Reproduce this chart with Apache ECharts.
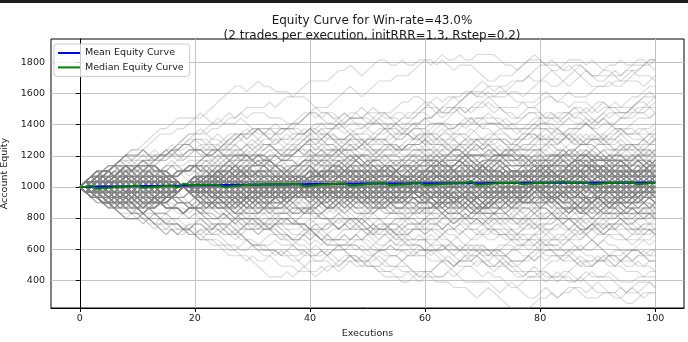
<!DOCTYPE html>
<html>
<head>
<meta charset="utf-8">
<script src="https://cdn.jsdelivr.net/npm/echarts@6/dist/echarts.min.js"></script>
<style>
  html, body { margin: 0; padding: 0; background: #fff; }
  #topbar { position: absolute; left: 0; top: 0; width: 688px; height: 3px; background: #1c1c1c; z-index: 2; }
  #chart { width: 688px; height: 342px; }
</style>
</head>
<body>
<div id="topbar"></div>
<div id="chart"></div>
<script>
// Simulation settings shown in the title
const winRate = 43.0;
const tradesPerExecution = 2;
const initRRR = 1.3;
const rStep = 0.2;
const startEquity = 1000;

// Axis ticks
const xTicks = [0, 20, 40, 60, 80, 100];
const yTicks = [400, 600, 800, 1000, 1200, 1400, 1600, 1800];

// Mean equity across all simulated accounts, executions 0..100
const meanEquity = [
  1000,1000,1001,1001,1002,1002,1003,1003,1004,1004,1005,
  1005,1006,1006,1007,1007,1008,1008,1009,1009,1010,
  1010,1011,1011,1011,1012,1012,1013,1013,1013,1014,
  1014,1015,1015,1015,1016,1016,1017,1017,1017,1018,
  1018,1018,1019,1019,1019,1020,1020,1020,1021,1021,
  1021,1021,1022,1022,1022,1022,1022,1023,1023,1023,
  1023,1023,1023,1024,1024,1024,1024,1024,1024,1024,
  1025,1025,1025,1025,1025,1025,1025,1026,1026,1026,
  1026,1026,1026,1026,1026,1027,1027,1027,1027,1027,
  1027,1027,1027,1027,1027,1027,1027,1027,1027,1027
];

// Median equity across all simulated accounts, executions 0..100
const medianEquity = [
  1000,1000,1008,988,991,994,997,1000,1003,1006,1009,
  994,997,1000,1003,1006,1009,996,1020,1012,1012,
  1013,1013,1014,1014,1000,1003,1006,1009,1012,1015,
  1016,1016,1017,1017,1018,1018,1019,1019,1004,1007,
  1010,1013,1016,1019,1020,1021,1008,1011,1014,1017,
  1020,1022,1023,1010,1013,1016,1019,1022,1024,1012,
  1014,1016,1018,1020,1022,1024,1025,1036,1013,1016,
  1019,1022,1024,1025,1026,1027,1017,1020,1023,1026,
  1027,1028,1030,1034,1027,1027,1028,1028,1016,1019,
  1022,1025,1027,1028,1028,1029,1017,1020,1023,1025
];

// Equity change per execution outcome: both trades lost / split / both won
const outcomeDelta = [-34, 0, 34];

// Hand-written outcome sequences standing in for individual account paths
// (each digit packs two executions: 3*first + second).
// Paths that stay near break-even:
const steadyOutcomes = [
  "3718204652 6130847251 8402736158 2604175384 7215063841",
  "5062837148 2857316048 1736205847 4081527360 6283751048",
  "1425063817 4730261584 0673418252 5814036276 3051847628",
  "7380514626 0547182343 6218057434 8162540378 2640351787",
  "2651403878 1374025681 4052873616 3728150442 8136054270",
  "4803162575 6218473051 2584061738 0376254184 5417830626",
  "6137028454 3805617242 7461358020 5238406617 1850274363",
  "0526738141 8263014575 3148720668 1647352084 6302581475",
  "8214605373 5041782636 0827153441 7365028158 4726013582",
  "3570481626 2683105748 5316028474 2081734565 0571826343",
  "1846230755 7431862040 6725043181 8420165737 2385470616",
  "5628143707 1564302878 2073654184 3518076242 7804613525",
  "7042518636 4120685373 8567321405 0643817522 1462837058",
  "2385716040 6873254118 1345087626 5281463707 6153048284",
  "6471302858 0315847262 4856102737 7134826050 3628105474",
  "4153867024 8746021535 0281374866 1762538043 8271465305",
  "0867342515 3256780414 6238145072 4087316258 5316278042",
  "8532074161 5408136727 3702465818 6354802171 2048536617",
  "1278450363 7821063544 5460217383 3816507426 4760381255",
  "3604125787 2150478366 8134750622 0543218667 7418206354",
  "5183620474 6302857141 2758301646 8261407535 0374652818",
  "2740563188 1473620555 6012843787 3486015272 5827304166",
  "6815237040 3528716064 7340528111 5048273686 2613840577",
  "0452718366 8065142373 1683507428 6275031844 7042168535",
  "4326801575 2781053646 5207468313 1730865424 8354610272",
  "7561432808 4036275181 8425137060 2617584343 1586207434",
  "1307856242 6814302757 3561084282 7042516638 5203174866",
  "3845017626 1257463808 4736215050 8523670411 6041728353",
  "8073264515 5382041676 0814527363 4156382708 3725046181",
  "2618473050 7145820363 6283740515 0867245132 4518063727",
  "5430187262 3602754818 1074628345 6354810276 7281036454",
  "0785316424 8413067252 5742301868 2038475161 3067528143",
  "6257048131 0574682385 2416870537 7123584606 8435217060",
  "4162705383 5728143606 7350186242 1645027838 0273645517",
  "7836152040 2041785367 4608531275 8372416053 5620473181",
  "3512867404 6350218742 0287643518 4106375282 2374581066",
  "1045782636 4186325070 8523704161 3760852414 6142803758",
  "8203541677 1063847526 3156028473 5281704636 4708216325",
  "2671430585 7215086343 6482317050 0548263177 1856340274",
  "5374026818 3842610575 1704865232 7613085424 0315728646",
  "4718350262 8504172636 5036214788 2384601557 7524130683",
  "0326184757 2657403181 7841526034 6027153848 3485062712",
  "6850273141 4316857020 2168745353 1573086426 8207364155",
  "1483605727 6078324516 4320851767 5842170363 2643518074",
  "7261548030 0735162484 8563207141 3026845187 5381627406",
  "3047816252 5482036717 0215784636 6458213702 1765043828",
  "5628034716 1374205868 6837512040 4210687353 7032516484",
  "2154760383 8621437505 3472068151 7305842626 4186752031",
  "8736125404 3250874168 1684357220 0763158444 6548021373",
  "0412873656 7047516283 5021643878 8146203575 3827164502",
  "6385207414 2813650747 7528034166 5632087141 0354826718",
  "4560318272 5186742030 2306475185 1087534626 8213650477",
  "1823745060 0642158374 4867320513 6254078231 5701834262",
  "7104582633 6307214858 0752613448 2418356707 2468103515",
  "3276041858 4528670312 6143875020 7561240383 1630285746",
  "5748216304 1760385426 3285147067 0836417252 7154628030",
  "0351678426 7482053160 5614208375 4370862518 2506713484",
  "8627305147 2035748616 1476025838 3625140877 4872035261",
  "2183540676 8351607244 7028361554 5073816420 6317582043",
  "4506821373 3864172505 2351784606 1284605737 8041376252",
  "2730614858 5026137443 8415270362 6348051727 0573812654",
  "6148372050 1357408266 4072658131 2560347818 7316205443",
  "0857264313 4681502737 5263081448 8137526040 3025618767",
  "5312807646 7204365181 2850417363 4623150878 1746038252",
  "3064518727 2518746030 6731052484 0416283757 5287314606",
  "7425031868 0382614575 3106745228 5871026434 6043827151",
  "1570482363 6843170252 4578201636 3204675818 2458163077",
  "4286153707 3715028464 0837614525 7062358141 8175402366",
  "8613274050 5260841377 7145368202 1583720646 0632581474",
  "2047365181 8436152707 1526043878 6371805242 4801257363",
  "5782014636 1057283444 6382507151 3048126576 7623415080",
  "0354826717 4821605353 2613478068 8250371464 1345762828",
  "6431708252 7603254181 5284136070 4726058313 3061874525",
  "3805162474 2148036565 8071524363 0532847116 5216408737",
  "7168250343 6315874022 3647205818 2184563707 8457031626",
  "1524387606 0273561848 4830127565 5617024383 6750382141",
  "4073615282 5641820737 7516384020 3842615076 0328456717",
  "8352041767 3786214505 0125843676 6034728151 2581637404",
  "2618703454 8502367181 6347015282 1275806344 4036285177",
  "6740253818 1438670525 3861402747 7450213686 1204835763"
];

// Paths that drift away from break-even:
const driftingOutcomes = [
  "4176203548 5724681352 8575246784 2613470546 3102647315",
  "1324061352 0314103612 4627150342 5724836152 2460571834",
  "7246583514 2604735148 8576284758 5273861475 6124073586",
  "1030461325 3216045132 6247031586 4520316748 7582463156",
  "2574013462 6138475204 3104625731 1030413026 3416205137",
  "8758462587 5782746858 4576283517 2651740384 1362054713",
  "3142061537 4625703182 7526841357 8587456278 7585264857",
  "5260473148 1346023517 0423615374 6274150382 4731628054",
  "6758241735 5274863152 2461037584 3152406137 0131430216",
  "0314102636 2546173048 6051428373 7254681352 5746281573",
  "4063728152 8572674851 2706413585 1346205731 6287041356",
  "1306524137 3162405713 0130341162 4527063184 2638150474",
  "5784275618 3517284062 1453062713 6582473517 8775684528",
  "5836124752 0413672513 2760358142 1031304216 3152603417",
  "6317452806 7482563514 5726184357 2613085746 8578267584",
  "3156024731 4728163502 0321406131 1301432605 6250473184",
  "7858246753 6584275136 3124607513 5027463181 4673052861",
  "2745031868 6130572483 4827103556 7524681375 1436204317",
  "5627384175 8785462578 7586284758 3624017586 2053146872",
  "1034316205 3162057413 6745283571 4207351682 0130342163",
  "4715263802 3104627351 6283740152 5782461357 2640137584",
  "7256483162 2614073588 0347162513 3106254273 5480236171",
  "1350624372 8757462858 5476283571 7582463154 2163058472",
  "8574627583 1306245137 0136130412 4620573186 7524368157",
  "3628154702 5047613826 8757284675 1342607315 0413013216",
  "0362741531 6578241357 2438061575 7858574286 3145062317",
  "5287463157 1430625138 7285614753 3061425172 6754827513",
  "0130624131 1304301526 2756148304 5726843157 4136257082",
  "6250371485 7284561537 1031203416 4625138072 8578657246",
  "7585246817 2406357183 5163728042 0316130142 3627584106",
  "3126047513 5237648101 4785263571 2640371586 1325406137",
  "4827361502 1030412315 3152764013 6587241375 8578465728",
  "7362581457 4023687153 2574160386 6108374525 0136103213",
  "1574368206 8573625788 3102647315 5284071362 7528463175",
  "0431620137 3726158404 8758275864 5627384157 1304627351",
  "6857241375 7524683157 3162045371 1030431201 4628705173",
  "2607541384 3516240317 6582413703 4170625386 5362841702",
  "1403625137 5817236402 0314625713 7858674285 6257384751",
  "8758264517 5726843175 2460375183 3145062713 4782605136",
  "6204731585 2871534062 7562841357 5472683175 1031403126",
  "3152407613 0130341216 1326504731 6584207135 8575684273",
  "5783624157 4051736282 1360254713 2746315804 6083725145",
  "2415738064 7568241375 8757456285 5868274758 3026147583",
  "0316130425 6241835703 4725063184 3104625713 1362504137",
  "5028463175 1346025371 6857241537 4036285174 7526841753",
  "6758342715 1031204316 2847063515 5610384722 3140627315",
  "7858462537 3504627181 0413625873 6528743157 4261738052",
  "1306425175 7582634157 4250637183 0130421316 2648175304",
  "3827046151 6145270383 2706384152 5418036274 7856241375",
  "5674823157 3120645731 8578462758 1360425137 0426315173",
  "1030461213 6758241357 4062831574 7285614357 2613084756",
  "5270364185 2613847502 3162407315 8757682458 0131041326",
  "6482573157 8758462578 3607241385 1425036173 6285170342",
  "0346125137 2584160374 7526843157 4063728152 5271846301",
  "4613058272 1302647315 3160425731 5826473157 7858265478",
  "8576427585 3146025137 2647038151 6205748361 1304625137",
  "3708265142 6758241357 5260384172 3102546713 8578465728",
  "1325046172 4706251838 0131304216 2840716353 7562841357",
  "7256381457 2416073585 6857243175 1360245137 4082573165",
  "6201537484 8578456278 1030413621 5726483157 3648025171",
  "3142067513 1365024731 4726083155 7858624578 5627384175",
  "2758041636 5847263157 0316425137 6283405172 1031402613",
  "7584268575 4062718353 2815064273 6572841375 3106245137",
  "0130426131 7582463157 8575846278 2641073586 5302748161",
  "6017253484 3140625713 5284061372 1325407613 4760825183",
  "5782463175 2604815376 0131430126 3162504137 7526843175",
  "4285071636 7858246758 6587241357 2460375183 1036425713",
  "1406325137 3827046152 5160284737 6042718355 8757684275",
  "7562841357 5276483157 1031204613 4628051736 3105264137",
  "2571406383 0131430216 6857241375 8578462758 4063275181",
  "8576245787 1304625137 3162405713 5270463182 6283041575",
  "3604825173 2716054382 7582641357 1362504137 5728463175",
  "0314627513 8758462578 4025736181 1031406213 6758241375",
  "5627483175 3106245173 2847063515 7586241357 4103627582",
  "6281504737 4736021583 1304625731 5062837142 3140625137",
  "0130462135 6205837141 2574063818 8757462858 7526841357",
  "5163024787 7582461357 4027361585 2816503472 0130413126",
  "6785243175 3204615878 1360425137 5726843157 8578265748",
  "1346025137 3102647513 7586241357 4250631874 6083152742",
  "2406853171 8575462878 5140627383 3162450137 0130413216",
  "5738264157 2460381575 7526841375 6758243157 4283061575",
  "3106245137 1360425713 0413625137 2647051838 1326504731",
  "4062831575 7586243157 3628047151 5782641357 3142605137",
  "8578462587 4203617585 1304625173 3160245713 6287041536",
  "2650481373 1304627513 8575846278 6041728353 2705364181",
  "1352046137 5026381474 3682051747 7582463157 8757462858",
  "7562481375 8578624758 3106425137 4625037182 1304625713",
  "6130572484 2846105373 5786241357 0131304216 4726058153",
  "0316130241 3142605137 5260481374 6204735182 7586241375",
  "4827160353 2615084374 6352074181 1346025137 5284063172",
  "6758241537 1304625317 4062873515 7586243175 2641058373",
  "3720614585 5782463175 1360245137 6053827141 7526841357",
  "0342615137 4728063515 8578462578 5627384157 3604827151",
  "8757462858 6785241357 2406381575 4152706383 1364025137",
  "5204736181 0131403126 6285047153 7526843175 2613085474",
  "3142056137 7562841357 1306425137 4268053717 8758426578",
  "5728475816 3587260748 5178624853 0758164728 3586170857",
  "8578758478 5887263413 0351426032 4136702514 3260417352",
  "7582463817 5274806358 2718543607 8352760418 5736280574",
  "6785142587 3658074825 7481563728 5247806851 8573625147",
  "8758788574 6215037415 2036140325 1403625031 4270316524",
  "5478257638 4728516740 2857361848 6258417035 7264851738",
  "4728516354 7251840637 2584716250 4718362583 5620748175",
  "7583620485 1784365278 4627518036 2857413648 7251836470",
  "3104213630 1403216134 5274683517 4628573142 6385724153",
  "2413061532 3140724103 1624031357 0413260148 5273641826",
  "4120563412 7031462513 0642315274 1305624013 6287453671",
  "1031403216 2403514263 5274168237 4602517384 2715063482",
  "3625140317 0462135026 3148205613 4027316054 1532640273",
  "5136024731 2460153148 0527316204 6135402718 3041562837"
];

function decodePath(code) {
  const digits = code.replace(/[^0-8]/g, '');
  const pts = [[0, startEquity]];
  let v = startEquity, x = 0;
  for (const ch of digits) {
    const d = Number(ch);
    for (const o of [Math.floor(d / 3), d % 3]) {
      x += 1;
      v += outcomeDelta[o];
      pts.push([x, v]);
    }
  }
  return pts;
}

const FONT = 'DejaVu Sans';
const TEXT = '#1a1a1a';

function pathSeries(code, opacity) {
  return {
    type: 'line',
    data: decodePath(code),
    showSymbol: false,
    symbol: 'none',
    silent: true,
    z: 1,
    lineStyle: { color: '#808080', width: 1.1, opacity: opacity }
  };
}

const series = driftingOutcomes.map(c => pathSeries(c, 0.3))
  .concat(steadyOutcomes.map(c => pathSeries(c, 0.6)));

series.push({
  name: 'Mean Equity Curve',
  type: 'line',
  data: meanEquity.map((v, i) => [i, v]),
  symbol: 'none',
  z: 3,
  color: '#0000ff',
  lineStyle: { color: '#0000ff', width: 2 }
});
series.push({
  name: 'Median Equity Curve',
  type: 'line',
  data: medianEquity.map((v, i) => [i, v]),
  symbol: 'none',
  z: 4,
  color: '#008000',
  lineStyle: { color: '#008000', width: 2 }
});

const chart = echarts.init(document.getElementById('chart'), null, { renderer: 'canvas' });
chart.setOption({
  animation: false,
  textStyle: { fontFamily: FONT },
  title: {
    text: 'Equity Curve for Win-rate=' + winRate.toFixed(1) + '%\n(' + tradesPerExecution +
      ' trades per execution, initRRR=' + initRRR + ', Rstep=' + rStep + ')',
    left: 367,
    top: 8,
    textAlign: 'center',
    textStyle: { fontFamily: FONT, fontSize: 12, fontWeight: 'normal', color: TEXT, lineHeight: 15 }
  },
  legend: {
    data: ['Mean Equity Curve', 'Median Equity Curve'],
    orient: 'vertical',
    left: 54,
    top: 44,
    padding: [3, 6, 3, 4],
    itemWidth: 22,
    itemHeight: 2,
    itemGap: 2.4,
    icon: 'rect',
    borderColor: '#cccccc',
    borderWidth: 1,
    borderRadius: 3,
    backgroundColor: 'rgba(255,255,255,0.8)',
    textStyle: { fontFamily: FONT, fontSize: 9.5, color: TEXT, lineHeight: 12 }
  },
  grid: {
    left: 51, right: 4, top: 39, bottom: 34,
    containLabel: false,
    outerBoundsMode: 'none',
    show: true,
    borderColor: '#000',
    borderWidth: 1,
    backgroundColor: 'transparent'
  },
  xAxis: {
    type: 'value',
    min: -5,
    max: 105,
    name: 'Executions',
    nameLocation: 'middle',
    nameGap: 19,
    nameTextStyle: { fontFamily: FONT, fontSize: 9.5, color: TEXT },
    axisLine: { show: true, lineStyle: { color: '#000', width: 1 } },
    axisTick: { show: true, length: 4, lineStyle: { color: '#000' }, customValues: xTicks },
    axisLabel: { fontFamily: FONT, fontSize: 9.5, color: TEXT, margin: 6, customValues: xTicks,
      formatter: v => String(v) },
    splitLine: { show: true, lineStyle: { color: '#c4c4c4', width: 1 } }
  },
  yAxis: {
    type: 'value',
    min: 222,
    max: 1950,
    name: 'Account Equity',
    nameLocation: 'middle',
    nameGap: 31,
    nameRotate: 90,
    nameTextStyle: { fontFamily: FONT, fontSize: 9.5, color: TEXT },
    axisLine: { show: true, lineStyle: { color: '#000', width: 1 } },
    axisTick: { show: true, length: 4, lineStyle: { color: '#000' }, customValues: yTicks },
    axisLabel: { fontFamily: FONT, fontSize: 9.5, color: TEXT, margin: 6, customValues: yTicks,
      formatter: v => String(v) },
    splitLine: { show: true, lineStyle: { color: '#c4c4c4', width: 1 } }
  },
  series: series
});
</script>
</body>
</html>
